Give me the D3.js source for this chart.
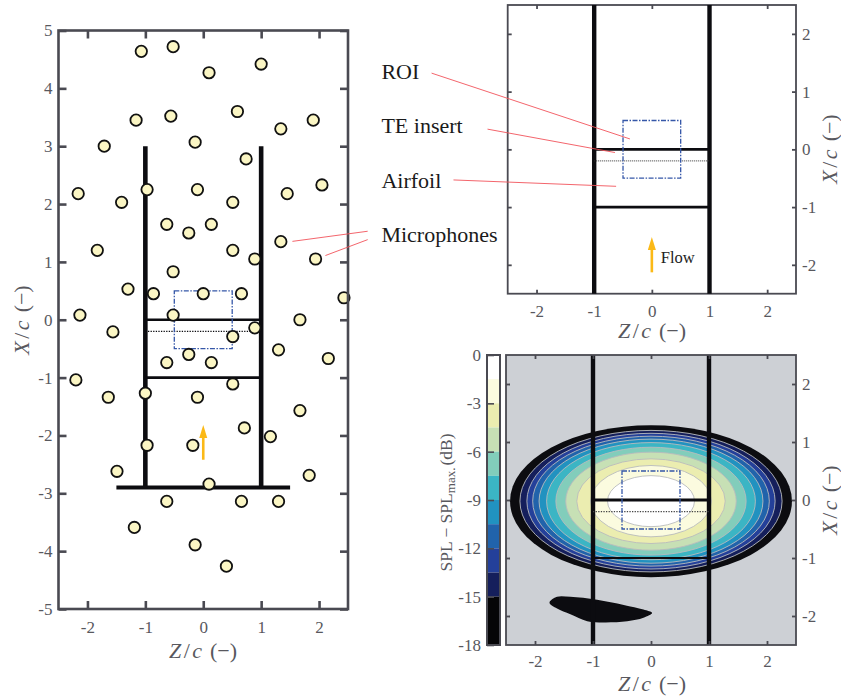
<!DOCTYPE html>
<html>
<head>
<meta charset="utf-8">
<script src="https://cdn.jsdelivr.net/npm/d3@7"></script>
<style>
  body { margin: 0; background: #fff; }
  text { font-family: "Liberation Serif", serif; }
</style>
</head>
<body>
<div id="chart"></div>
<script>
// microphone positions
const micZ = [-1.07, -0.52, 0.10, 1.00, -1.16, -0.56, 0.59, 1.34, 1.90, -0.14, -1.71, 0.74, -2.16, -1.41, -0.97, -0.10, 0.51, 1.45, 2.05, -0.63, -0.25, 0.14, -1.83, 0.51, 0.89, 1.34, 1.94, -0.52, -1.30, -0.86, 0.00, 0.66, 2.43, -2.13, -0.52, 1.67, -1.56, 0.89, 0.51, -0.25, -0.63, 0.14, 1.30, 2.16, -2.20, 0.51, -1.64, -1.00, -0.10, 1.67, 0.71, 1.16, -0.97, -0.18, -1.49, 1.83, 0.10, -0.63, 0.66, 1.30, -1.19, -0.14, 0.40]
const micX = [4.64, 4.72, 4.27, 4.42, 3.45, 3.52, 3.60, 3.30, 3.45, 3.07, 3.00, 2.78, 2.18, 2.03, 2.25, 2.25, 2.03, 2.18, 2.33, 1.65, 1.50, 1.65, 1.20, 1.20, 1.05, 1.35, 1.05, 0.83, 0.53, 0.45, 0.45, 0.45, 0.38, 0.08, 0.08, 0.00, -0.21, -0.14, -0.29, -0.60, -0.74, -0.74, -0.52, -0.67, -1.04, -1.11, -1.34, -1.27, -1.34, -1.57, -1.87, -2.02, -2.17, -2.17, -2.62, -2.69, -2.84, -3.14, -3.14, -3.14, -3.59, -3.89, -4.26]

// colorbar, dB
const cbEdges = [0, -1.5, -3, -4.5, -6, -7.5, -9, -10.5, -12, -13.5, -15, -18]
const cbColors = ["#ffffff", "#fbfbdf", "#ebedb0", "#c7e0b5", "#82cdbb", "#3bb5c4", "#2192c0", "#2163ab", "#24409a", "#151f5c", "#050507"]
const cbTicks = [0, -3, -6, -9, -12, -15, -18]

// contour semi axes, outer band first
const bandColors = ["#0c0c10", "#151f5c", "#24409a", "#2163ab", "#2192c0", "#3bb5c4", "#82cdbb", "#c7e0b5", "#ebedb0", "#fbfbdf", "#ffffff"]
const bandZ = [2.43, 2.26, 2.14, 2.04, 1.93, 1.80, 1.64, 1.47, 1.28, 1.04, 0.75]
const bandX = [1.31, 1.22, 1.17, 1.12, 1.07, 1.01, 0.93, 0.845, 0.73, 0.615, 0.44]
const centerX = -0.02

// small closed blob under the main lobe
const blobZ = [-1.75, -1.62, -1.39, -0.93, -0.47, -0.13, 0.02, -0.13, -0.41, -0.82, -1.10, -1.39, -1.62]
const blobX = [-1.77, -1.67, -1.67, -1.72, -1.81, -1.89, -1.95, -2.03, -2.09, -2.11, -2.09, -1.97, -1.87]

const zTicks = [-2, -1, 0, 1, 2]
const xTicksLeft = [-5, -4, -3, -2, -1, 0, 1, 2, 3, 4, 5]
const xTicksRight = [-2, -1, 0, 1, 2]

const axisCol = "#4a4a52"
const textCol = "#58585e"
const black = "#0c0c10"
const roiCol = "#3557a8"
const arrowCol = "#fbb917"
const leaderCol = "#f2545b"

const svg = d3.select("#chart").append("svg").attr("width", 841).attr("height", 697).style("display", "block")

function makeAxes(opt) {
    var z = d3.scaleLinear().domain([-2.5, 2.5]).range([opt.left, opt.right])
    var x = d3.scaleLinear().domain(opt.xDomain).range([opt.bottom, opt.top])
    var g = svg.append("g")
    return { z: z, x: x, g: g, opt: opt }
}

function drawBox(p) {
    var o = p.opt
    var len = o.tick
    var g = p.g.append("g")
    var fmt = d => String(d)
    var styleAxis = (a) => {
        a.select(".domain").remove()
        a.selectAll("line").attr("stroke", axisCol).attr("stroke-width", o.sw)
        a.selectAll("text").attr("fill", textCol).style("font-size", "17px").style("font-family", "Liberation Serif")
    }
    g.append("g").attr("transform", "translate(0," + o.bottom + ")")
        .call(d3.axisBottom(p.z).tickValues(zTicks).tickFormat(fmt).tickSizeInner(-len).tickPadding(o.padZ).tickSizeOuter(0)).call(styleAxis)
    g.append("g").attr("transform", "translate(0," + o.top + ")")
        .call(d3.axisTop(p.z).tickValues(zTicks).tickFormat("").tickSizeInner(-len).tickSizeOuter(0)).call(styleAxis)
    var xA = o.labelRight ? d3.axisRight(p.x) : d3.axisLeft(p.x)
    var xB = o.labelRight ? d3.axisLeft(p.x) : d3.axisRight(p.x)
    g.append("g").attr("transform", "translate(" + (o.labelRight ? o.right : o.left) + ",0)")
        .call(xA.tickValues(o.xTicks).tickFormat(fmt).tickSizeInner(-len).tickPadding(6).tickSizeOuter(0)).call(styleAxis)
    g.append("g").attr("transform", "translate(" + (o.labelRight ? o.left : o.right) + ",0)")
        .call(xB.tickValues(o.xTicks).tickFormat("").tickSizeInner(-len).tickSizeOuter(0)).call(styleAxis)
    g.append("rect").attr("x", o.left).attr("y", o.top).attr("width", o.right - o.left).attr("height", o.bottom - o.top)
        .attr("fill", "none").attr("stroke", axisCol).attr("stroke-width", o.sw)
}

function axisLabel(g, name, x, y, rotate) {
    var t = g.append("text").attr("transform", "translate(" + x + "," + y + ")" + (rotate ? " rotate(-90)" : ""))
        .attr("text-anchor", "middle").attr("fill", textCol).style("font-size", "22px")
    t.append("tspan").style("font-style", "italic").text(name)
    t.append("tspan").attr("dx", 2.5).text("/")
    t.append("tspan").style("font-style", "italic").attr("dx", 2.5).text("c")
    t.append("tspan").attr("dx", 8).text("(−)")
}

function segment(p, z0, x0, z1, x1, col, w, dash) {
    var l = p.g.append("line").attr("x1", p.z(z0)).attr("y1", p.x(x0)).attr("x2", p.z(z1)).attr("y2", p.x(x1))
        .attr("stroke", col).attr("stroke-width", w)
    if (dash) l.attr("stroke-dasharray", dash)
    return l
}

function roi(p) {
    p.g.append("rect").attr("x", p.z(-0.5)).attr("y", p.x(0.5))
        .attr("width", p.z(0.5) - p.z(-0.5)).attr("height", p.x(-0.5) - p.x(0.5))
        .attr("fill", "none").attr("stroke", roiCol).attr("stroke-width", 1.3).attr("stroke-dasharray", "5 1.5 1.5 1.5")
}

function flowArrow(p, x0, x1) {
    var tip = p.x(x1), xc = p.z(0)
    segment(p, 0, x0, 0, x1 - 0.2, arrowCol, 2.6)
    p.g.append("path").attr("d", d3.line()([[xc, tip], [xc + 4, tip + 13], [xc - 4, tip + 13]])).attr("fill", arrowCol)
}

// left panel: array layout
const pLeft = makeAxes({ left: 58.5, right: 348, top: 30.5, bottom: 609, xDomain: [-5, 5], xTicks: xTicksLeft, tick: 8, sw: 2.6, padZ: 12, labelRight: false })
segment(pLeft, -1, 3, -1, -2.9, black, 4.6)
segment(pLeft, 1, 3, 1, -2.9, black, 4.6)
segment(pLeft, -1, 0, 1, 0, black, 2.7)
segment(pLeft, -1, -1, 1, -1, black, 2.7)
segment(pLeft, -1.5, -2.9, 1.5, -2.9, black, 4)
segment(pLeft, -1, -0.2, 1, -0.2, black, 1.3, "1.3 1.3")
roi(pLeft)
flowArrow(pLeft, -2.42, -1.82)
pLeft.g.selectAll("circle.mic").data(micZ).join("circle").attr("class", "mic")
    .attr("cx", d => pLeft.z(d)).attr("cy", (d, i) => pLeft.x(micX[i])).attr("r", 5.7)
    .attr("fill", "#fbf6c4").attr("stroke", "#111").attr("stroke-width", 1.8)
drawBox(pLeft)
axisLabel(pLeft.g, "Z", 203, 658, false)
axisLabel(pLeft.g, "X", 29, 320, true)

// top right panel: test section sketch
const pTop = makeAxes({ left: 507.7, right: 796, top: 5, bottom: 293.7, xDomain: [-2.5, 2.5], xTicks: xTicksRight, tick: 4, sw: 1.8, padZ: 11, labelRight: true })
drawBox(pTop)
segment(pTop, -1, 2.5, -1, -2.5, black, 4.4)
segment(pTop, 1, 2.5, 1, -2.5, black, 4.4)
segment(pTop, -1, 0, 1, 0, black, 2.8)
segment(pTop, -1, -1, 1, -1, black, 2.8)
segment(pTop, -1, -0.2, 1, -0.2, "#333", 1, "1 1")
roi(pTop)
flowArrow(pTop, -2.13, -1.52)
pTop.g.append("text").attr("x", pTop.z(0.45)).attr("y", pTop.x(-1.97)).attr("text-anchor", "middle")
    .attr("fill", "#222").style("font-size", "16.5px").text("Flow")
axisLabel(pTop.g, "Z", 652, 338, false)
axisLabel(pTop.g, "X", 837, 149, true)

// bottom right panel: source map
const pMap = makeAxes({ left: 506, right: 796, top: 355, bottom: 645, xDomain: [-2.5, 2.5], xTicks: xTicksRight, tick: 4, sw: 1.8, padZ: 10, labelRight: true })
pMap.g.append("rect").attr("x", 506).attr("y", 355).attr("width", 290).attr("height", 290).attr("fill", "#cdd0d5")
pMap.g.selectAll("ellipse.band").data(bandZ).join("ellipse").attr("class", "band")
    .attr("cx", pMap.z(0)).attr("cy", pMap.x(centerX))
    .attr("rx", d => pMap.z(d) - pMap.z(0)).attr("ry", (d, i) => pMap.x(0) - pMap.x(bandX[i]))
    .attr("fill", (d, i) => bandColors[i]).attr("stroke", (d, i) => i ? "#b9bbbd" : "none").attr("stroke-width", 0.9)
pMap.g.append("path")
    .attr("d", d3.line().x(d => pMap.z(d)).y((d, i) => pMap.x(blobX[i])).curve(d3.curveCatmullRomClosed)(blobZ))
    .attr("fill", black)
segment(pMap, -1, 2.5, -1, -2.5, black, 4.4)
segment(pMap, 1, 2.5, 1, -2.5, black, 4.4)
segment(pMap, -1, 0, 1, 0, black, 2.8)
segment(pMap, -1, -1, 1, -1, black, 1.8)
segment(pMap, -1, -0.2, 1, -0.2, "#444", 1.3, "1.3 1.3")
roi(pMap)
drawBox(pMap)
axisLabel(pMap.g, "Z", 652, 691, false)
axisLabel(pMap.g, "X", 837, 500, true)

// colorbar
const cb = d3.scaleLinear().domain([-18, 0]).range([645, 355])
const gCb = svg.append("g")
gCb.selectAll("rect.step").data(cbColors).join("rect").attr("class", "step")
    .attr("x", 487).attr("width", 13)
    .attr("y", (d, i) => cb(cbEdges[i])).attr("height", (d, i) => cb(cbEdges[i + 1]) - cb(cbEdges[i]))
    .attr("fill", d => d)
const cbAxis = gCb.append("g").attr("transform", "translate(487,0)")
    .call(d3.axisLeft(cb).tickValues(cbTicks).tickFormat(d => String(d)).tickSizeInner(-7).tickPadding(6).tickSizeOuter(0))
cbAxis.select(".domain").remove()
cbAxis.selectAll("line").attr("stroke", axisCol).attr("stroke-width", 1.6)
cbAxis.selectAll("text").attr("fill", textCol).style("font-size", "17px").style("font-family", "Liberation Serif")
gCb.append("rect").attr("x", 487).attr("y", 355).attr("width", 13).attr("height", 290)
    .attr("fill", "none").attr("stroke", axisCol).attr("stroke-width", 2)
const cbLabel = gCb.append("text").attr("transform", "translate(451.5,502.5) rotate(-90)").attr("text-anchor", "middle")
    .attr("fill", textCol).style("font-size", "17.5px")
cbLabel.append("tspan").text("SPL − SPL")
cbLabel.append("tspan").attr("dy", 3).style("font-size", "13px").text("max.")
cbLabel.append("tspan").attr("dy", -3).attr("dx", 2).text("(dB)")

// annotations with leader lines
const leaders = [
    { p: pTop, z0: -3.82, x0: 1.32, z1: -0.38, x1: 0.18 },
    { p: pTop, z0: -2.85, x0: 0.35, z1: -0.64, x1: -0.055 },
    { p: pTop, z0: -3.44, x0: -0.53, z1: -0.62, x1: -0.64 },
    { p: pLeft, z0: 2.84, x0: 1.53, z1: 1.54, x1: 1.355 },
    { p: pLeft, z0: 2.84, x0: 1.385, z1: 2.11, x1: 1.11 }
]
leaders.forEach(l => segment(l.p, l.z0, l.x0, l.z1, l.x1, leaderCol, 0.9))

const noteNames = ["ROI", "TE insert", "Airfoil", "Microphones"]
const noteX = [1.22, 0.29, -0.67, -1.6]
svg.append("g").selectAll("text").data(noteNames).join("text")
    .attr("x", pTop.z(-4.69)).attr("y", (d, i) => pTop.x(noteX[i]))
    .attr("fill", "#1a1a1a").style("font-size", "22px").text(d => d)
</script>
</body>
</html>
